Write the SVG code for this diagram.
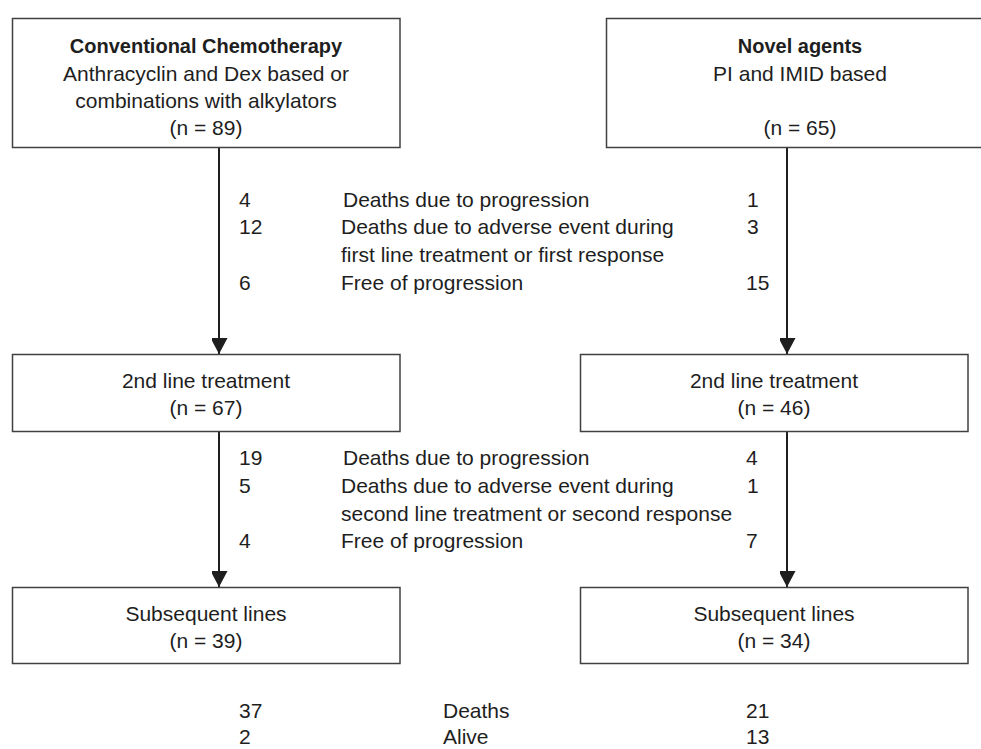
<svg xmlns="http://www.w3.org/2000/svg" width="981" height="749" viewBox="0 0 981 749">
<style>
.box{fill:#fff;stroke:#404040;stroke-width:1.5}
text{font-family:"Liberation Sans",Arial,sans-serif;font-size:21px;fill:#1e1e1e}
.b{font-weight:bold;font-size:20px}
.c{text-anchor:middle}
.conn{stroke:#1e1e1e;stroke-width:2;fill:none}
</style>
<defs>
<marker id="ah" markerUnits="userSpaceOnUse" markerWidth="18" markerHeight="16" refX="16" refY="8.5" orient="auto">
<path d="M0,0 L16,8.5 L0,17 Z" fill="#1e1e1e"/>
</marker>
</defs>
<rect width="981" height="749" fill="#fff"/>
<g id="connectors">
<line class="conn" x1="219" y1="148" x2="219" y2="354" marker-end="url(#ah)"/>
<line class="conn" x1="787" y1="148" x2="787" y2="354" marker-end="url(#ah)"/>
<line class="conn" x1="219" y1="432" x2="219" y2="587" marker-end="url(#ah)"/>
<line class="conn" x1="787" y1="432" x2="787" y2="587" marker-end="url(#ah)"/>
</g>
<g id="conv">
<rect class="box" x="12.5" y="18.5" width="387.5" height="129"/>
<text class="c b" x="206" y="53">Conventional Chemotherapy</text>
<text class="c" x="206" y="81">Anthracyclin and Dex based or</text>
<text class="c" x="206" y="108">combinations with alkylators</text>
<text class="c" x="206" y="135">(n = 89)</text>
</g>
<g id="novel">
<rect class="box" x="606.5" y="18.5" width="390" height="129"/>
<text class="c b" x="800" y="53">Novel agents</text>
<text class="c" x="800" y="81">PI and IMID based</text>
<text class="c" x="800" y="135">(n = 65)</text>
</g>
<g id="conv2">
<rect class="box" x="12.5" y="354.5" width="387.5" height="77"/>
<text class="c" x="206" y="388">2nd line treatment</text>
<text class="c" x="206" y="415">(n = 67)</text>
</g>
<g id="novel2">
<rect class="box" x="580.5" y="354.5" width="387.5" height="77"/>
<text class="c" x="774" y="388">2nd line treatment</text>
<text class="c" x="774" y="415">(n = 46)</text>
</g>
<g id="conv3">
<rect class="box" x="12.5" y="587.5" width="387.5" height="76"/>
<text class="c" x="206" y="621">Subsequent lines</text>
<text class="c" x="206" y="648">(n = 39)</text>
</g>
<g id="novel3">
<rect class="box" x="580.5" y="587.5" width="387.5" height="76"/>
<text class="c" x="774" y="621">Subsequent lines</text>
<text class="c" x="774" y="648">(n = 34)</text>
</g>
<g id="stats1">
<text x="239" y="207">4</text>
<text x="343" y="207">Deaths due to progression</text>
<text x="747" y="207">1</text>
<text x="239" y="234">12</text>
<text x="341" y="234">Deaths due to adverse event during</text>
<text x="747" y="234">3</text>
<text x="341" y="262">first line treatment or first response</text>
<text x="239" y="290">6</text>
<text x="341" y="290">Free of progression</text>
<text x="746" y="290">15</text>
</g>
<g id="stats2">
<text x="239" y="465">19</text>
<text x="343" y="465">Deaths due to progression</text>
<text x="746" y="465">4</text>
<text x="239" y="493">5</text>
<text x="341" y="493">Deaths due to adverse event during</text>
<text x="747" y="493">1</text>
<text x="341" y="521">second line treatment or second response</text>
<text x="239" y="548">4</text>
<text x="341" y="548">Free of progression</text>
<text x="746" y="548">7</text>
</g>
<g id="stats3">
<text x="239" y="718">37</text>
<text x="443" y="718">Deaths</text>
<text x="746" y="718">21</text>
<text x="239" y="744">2</text>
<text x="443" y="744">Alive</text>
<text x="746" y="744">13</text>
</g>
</svg>
